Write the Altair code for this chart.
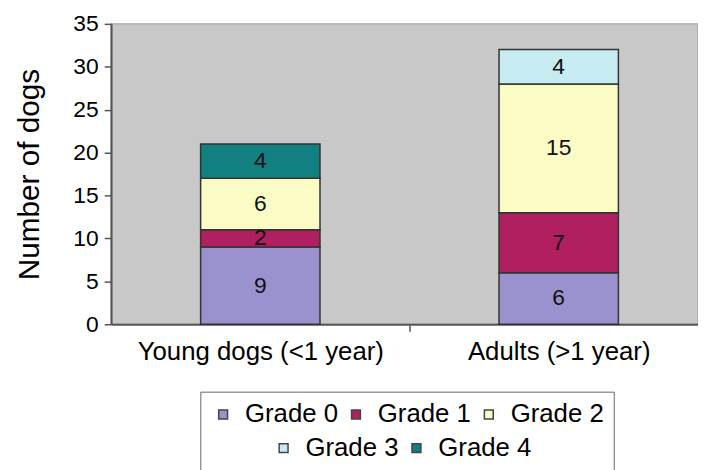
import altair as alt
import pandas as pd

ages = ["Young dogs (<1 year)", "Adults (>1 year)"]
grades = ["Grade 0", "Grade 1", "Grade 2", "Grade 3", "Grade 4"]
young_counts = [9, 2, 6, 0, 4]
adult_counts = [6, 7, 15, 4, 0]
grade_colors = ["#9A92CF", "#B01F60", "#FBFBC4", "#C6ECF1", "#128080"]
y_ticks = [0, 5, 10, 15, 20, 25, 30, 35]

rows = []
for age, counts in zip(ages, [young_counts, adult_counts]):
    for g, v in zip(grades, counts):
        rows.append({"age": age, "grade": g, "value": v})
df = pd.DataFrame(rows)

FONT = "Liberation Sans"

base = alt.Chart(df).transform_stack(
    stack="value", groupby=["age"], as_=["y0", "y1"],
    sort=[alt.SortField("grade", order="ascending")]
)

x_enc = alt.X(
    "age:N", sort=ages, title=None,
    scale=alt.Scale(paddingInner=0.6, paddingOuter=0.3, range=[0, 602]),
    axis=alt.Axis(labelAngle=0, labelFontSize=26, labelFont=FONT, labelColor="#000",
                  labelLimit=0, domainColor="#555", domainWidth=2, tickColor="#555",
                  tickWidth=1.5, tickSize=7, tickOffset=150, labelOffset=-150,
                  labelPadding=8),
)
y_enc = alt.Y(
    "y0:Q", scale=alt.Scale(domain=[0, 35], nice=False),
    axis=alt.Axis(values=y_ticks, title="Number of dogs", titleFontSize=30, titleFont=FONT,
                  titleFontWeight="normal", titleColor="#000", titlePadding=29,
                  labelFontSize=23, labelFont=FONT, labelColor="#000", labelPadding=6,
                  domainColor="#555", domainWidth=2, tickColor="#555", tickWidth=1.5,
                  tickSize=7, grid=False),
)

legend_common = dict(
    orient="none", direction="horizontal", symbolType="square", symbolSize=80,
    symbolStrokeColor="#444", symbolStrokeWidth=1.5, symbolOpacity=1,
    labelFontSize=26, labelFont=FONT, labelColor="#000", labelOffset=9,
    columnPadding=5,
)

bars_a = base.transform_filter(
    alt.FieldOneOfPredicate(field="grade", oneOf=grades[:3])
).transform_filter("datum.value > 0").mark_bar(stroke="#333", strokeWidth=1.5).encode(
    x=x_enc, y=y_enc, y2="y1:Q",
    color=alt.Color("grade:N",
                    scale=alt.Scale(domain=grades[:3], range=grade_colors[:3]),
                    legend=alt.Legend(legendX=90, legendY=371, title="\u00a0",
                                      titleOrient="bottom", titleFontSize=60,
                                      strokeColor="#666", padding=10, **legend_common)),
)

bars_b = base.transform_filter(
    alt.FieldOneOfPredicate(field="grade", oneOf=grades[3:])
).transform_filter("datum.value > 0").mark_bar(stroke="#333", strokeWidth=1.5).encode(
    x=alt.X("age:N", sort=ages),
    y=alt.Y("y0:Q"), y2="y1:Q",
    color=alt.Color("grade:N",
                    scale=alt.Scale(domain=grades[3:], range=grade_colors[3:]),
                    legend=alt.Legend(legendX=161, legendY=415, title=None, padding=0,
                                      **legend_common)),
)

labels = base.transform_filter("datum.value > 0").transform_calculate(
    ymid="(datum.y0 + datum.y1) / 2"
).mark_text(fontSize=23, font=FONT, color="#111").encode(
    x=alt.X("age:N", sort=ages),
    y=alt.Y("ymid:Q"),
    text="value:Q",
)

chart = alt.layer(bars_a, bars_b, labels).resolve_scale(color="independent").properties(
    width=592, height=303,
    autosize=alt.AutoSizeParams(type="none"),
    padding={"left": 104, "top": 14, "right": 0, "bottom": 145},
).configure_view(fill="#C8C8C8", stroke="#A8A8A8", strokeWidth=1.5)

chart.save("out.html", embed_options={"renderer": "svg", "actions": False})
